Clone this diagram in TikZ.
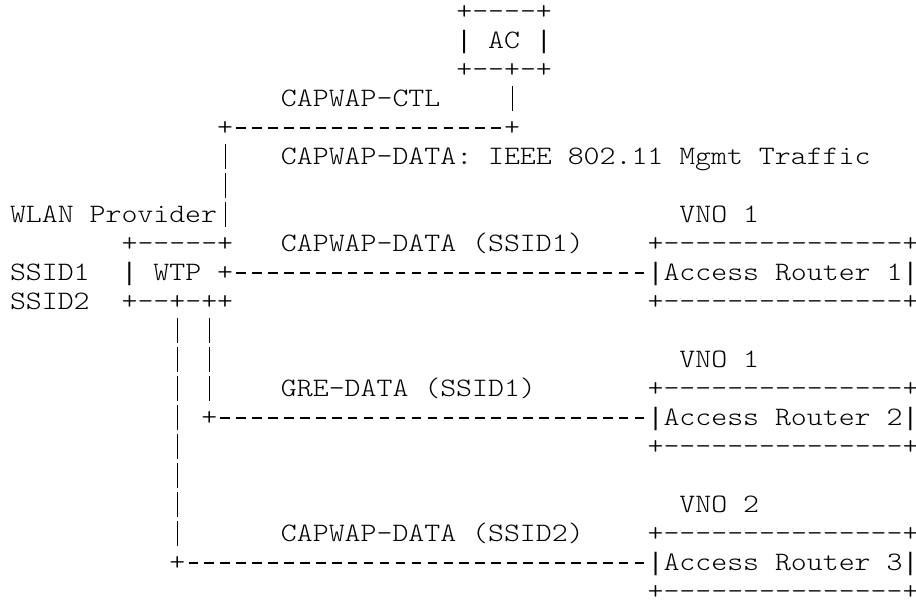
\documentclass[tikz,border=0pt]{standalone}
\usepackage{fontspec}
\setmonofont[FakeStretch=1.141]{lmmonolt10-regular.otf}
\newfontfamily\barfont{Liberation Mono}
\newcommand\asciibar{\makebox[7.97pt]{\barfont\fontsize{12.6pt}{14.5pt}\selectfont|}}
\begin{document}
\begin{tikzpicture}[x=7.97pt,y=-14.5pt,line join=round,
	every node/.style={font=\ttfamily\fontsize{13.3pt}{14.5pt}\selectfont,inner sep=0pt,outer sep=0pt,text height=11.23pt,text depth=3.27pt,anchor=west},
	hl/.style={line width=0.55pt,dash pattern=on 4.78pt off 3.19pt,dash phase=6.38pt},
	vl/.style={line width=0.55pt,dash pattern=on 12.5pt off 2pt,dash phase=13.5pt}]
	\useasboundingbox (-1.1274,-0.4138) rectangle (56.338,20.414);
	% AC
	\node (actop) at (27.5,0) {+----+};
	\node (ac) at (27.5,1) {\asciibar{} AC \asciibar};
	\node (acbot) at (27.5,2) {+--+-+};
	% WTP
	\node (wtptop) at (6.5,8) {+-----+};
	\node (wtp) at (6.5,9) {\asciibar{} WTP +};
	\node (wtpbot) at (6.5,10) {+--+-++};
	% access routers
	\node (artopA) at (39.5,8) {+---------------+};
	\node (arA) at (39.5,9) {\asciibar Access Router 1\asciibar};
	\node (arbotA) at (39.5,10) {+---------------+};
	\node (artopB) at (39.5,13) {+---------------+};
	\node (arB) at (39.5,14) {\asciibar Access Router 2\asciibar};
	\node (arbotB) at (39.5,15) {+---------------+};
	\node (artopC) at (39.5,18) {+---------------+};
	\node (arC) at (39.5,19) {\asciibar Access Router 3\asciibar};
	\node (arbotC) at (39.5,20) {+---------------+};
	% junctions
	\node (jA) at (30.5,4) {+};
	\node (jB) at (12.5,4) {+};
	\node (jC) at (11.5,14) {+};
	\node (jD) at (9.5,19) {+};
	% labels
	\node (ctl) at (16.5,3) {CAPWAP-CTL};
	\node (mgmt) at (16.5,5) {CAPWAP-DATA: IEEE 802.11 Mgmt Traffic};
	\node (prov) at (-0.5,7) {WLAN Provider};
	\node (vnoA) at (41.5,7) {VNO 1};
	\node (dataA) at (16.5,8) {CAPWAP-DATA (SSID1)};
	\node (ssidA) at (-0.5,9) {SSID1};
	\node (ssidB) at (-0.5,10) {SSID2};
	\node (vnoB) at (41.5,12) {VNO 1};
	\node (gre) at (16.5,13) {GRE-DATA (SSID1)};
	\node (vnoC) at (41.5,17) {VNO 2};
	\node (dataB) at (16.5,18) {CAPWAP-DATA (SSID2)};
	% links
	\draw[vl] (jA.north |- acbot.south) -- (jA.north);
	\draw[hl] (jB.east) -- (jA.west);
	\draw[vl] (jB.south) -- (jB.south |- wtptop.north);
	\draw[hl] (wtp.east) -- (arA.west);
	\draw[vl] (jC.north |- wtpbot.south) -- (jC.north);
	\draw[vl] (jD.north |- wtpbot.south) -- (jD.north);
	\draw[hl] (jC.east) -- (arB.west);
	\draw[hl] (jD.east) -- (arC.west);
\end{tikzpicture}
\end{document}
